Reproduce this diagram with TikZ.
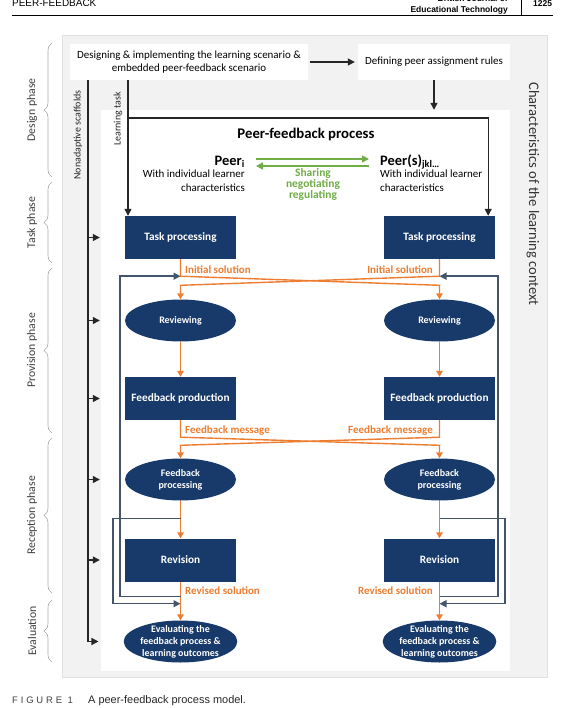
\documentclass[tikz,border=0pt]{standalone}
\usepackage{fontspec}
\setmainfont{Carlito}
\newfontfamily\journalfont{Liberation Sans}
\newfontfamily\figlabelfont[LetterSpace=30]{Liberation Sans}
\usetikzlibrary{arrows.meta,shapes.geometric,decorations.pathreplacing}

\definecolor{fbblue}{RGB}{24,58,106}
\definecolor{fborange}{RGB}{237,125,49}
\definecolor{fbgreen}{RGB}{112,173,71}
\definecolor{fbslate}{RGB}{68,84,106}
\definecolor{ctxgrey}{RGB}{242,242,242}

\newcommand{\PeerColumn}[2]{
    \node[fbbox] (task#2) at (#1,237.5) {Task processing};
    \node[fboval] (rev#2) at (#1,320.5) {Reviewing};
    \node[fbbox] (prod#2) at (#1,398.5) {Feedback production};
    \node[fboval] (proc#2) at (#1,479.5) {Feedback\\processing};
    \node[fbbox] (revi#2) at (#1,560) {Revision};
    \node[fboval] (eval#2) at (#1,641.5) {Evaluating the\\feedback process \&\\learning outcomes};
    \draw[orangeflow] (rev#2) -- (prod#2);
    \draw[orangeflow] (proc#2) -- (revi#2);
    \draw[orangeflow] (revi#2) -- (eval#2);
}

\newcommand{\FeedbackLoops}[3]{
    \draw[slateloop] ([yshift=-15bp]revi#1.south) -- ++(#2,0) |- ([yshift=-17bp]task#1.south);
    \draw[slateloop] ([yshift=-18bp]proc#1.south) -- ++(#3,0) |- ([yshift=-22bp]revi#1.south);
}

\begin{document}
\begin{tikzpicture}[x=1bp,y=-1bp,
        fbbox/.style={rectangle, fill=fbblue, text=white, minimum width=111bp, minimum height=43bp, inner sep=0pt, font=\fontsize{11.3}{13}\selectfont\bfseries},
        fboval/.style={ellipse, fill=fbblue, text=white, minimum width=111bp, minimum height=42bp, inner xsep=0pt, inner ysep=-5bp, align=center, font=\fontsize{10}{12}\selectfont\bfseries},
        plainbox/.style={rectangle, fill=white, inner sep=0pt, align=center, font=\fontsize{11}{13.5}\selectfont},
        blackarrow/.style={draw=black!85, line width=1.3bp, -{Triangle[length=7bp,width=7bp]}},
        orangeflow/.style={draw=fborange, line width=1.4bp, -{Triangle[length=6bp,width=6.5bp]}},
        slateloop/.style={draw=fbslate, line width=1.5bp, -{Triangle[length=7bp,width=7bp]}},
        greenarrow/.style={draw=fbgreen, line width=1.5bp, -{Triangle[length=7bp,width=7bp]}},
        flowlbl/.style={text=fborange, inner sep=0pt, font=\fontsize{11}{13}\selectfont\bfseries},
        phasebrace/.style={draw=black!35, line width=0.6bp, decorate, decoration={brace, amplitude=8bp}},
        phaselbl/.style={rotate=90, text=black!75, font=\fontsize{11.8}{13}\selectfont},
        sidelbl/.style={rotate=90, text=black!85, inner sep=0pt, font=\fontsize{10}{12}\selectfont},
        desclbl/.style={inner sep=0pt, font=\fontsize{11}{13.5}\selectfont}]
    \useasboundingbox (0,0) rectangle (563,708);

    % running head
    \node[anchor=base west, inner sep=0pt, font=\journalfont\fontsize{10}{12}\selectfont] (runhead) at (12,7) {PEER-FEEDBACK};
    \node[anchor=base east, inner sep=0pt, font=\journalfont\fontsize{8.5}{10}\selectfont\bfseries] (journal0) at (508,1.5) {British Journal of};
    \node[anchor=base east, inner sep=0pt, font=\journalfont\fontsize{8.5}{10}\selectfont\bfseries] (journal) at (508,12.5) {Educational Technology};
    \node[anchor=base west, inner sep=0pt, font=\journalfont\fontsize{8.5}{10}\selectfont\bfseries] (pageno) at (533,7) {1225};
    \draw[line width=0.8bp] (12,15) -- (553,15);
    \draw[line width=0.6bp] (521,0) -- (521,15);

    % context and process areas
    \node[fill=ctxgrey, draw=black!12, minimum width=485bp, minimum height=642bp, inner sep=0pt] (ctx) at (304.5,356) {};
    \node[fill=white, minimum width=409bp, minimum height=561bp, inner sep=0pt] (pfarea) at (305.5,390.5) {};
    \node[rotate=-90, text=black!80, inner sep=0pt, font=\fontsize{14.6}{16}\selectfont] (ctxlbl) at (533,194) {Characteristics of the learning context};

    % design
    \node[plainbox, minimum width=238bp, minimum height=36bp] (design) at (189,62) {Designing \& implementing the learning scenario \&\\embedded peer-feedback scenario};
    \node[plainbox, minimum width=152bp, minimum height=36bp] (rules) at (434,62) {Defining peer assignment rules};
    \draw[blackarrow, shorten <=2bp, shorten >=3bp] (design) -- (rules);
    \draw[blackarrow] (rules.south) -- (rules.south |- pfarea.north);

    % phases
    \foreach \top/\bot/\nm/\txt in {43/177/des/Design phase, 182/263/tsk/Task phase, 268/433/prv/Provision phase, 438/593/rcp/Reception phase, 600/662/evl/Evaluation}{
        \draw[phasebrace] (52,\bot) -- (52,\top);
        \node[phaselbl] (ph\nm) at (32,{(\top+\bot)/2}) {\txt};
    }

    % peers
    \node[inner sep=0pt, font=\fontsize{14.8}{16}\selectfont\bfseries] (pftitle) at (306,134) {Peer-feedback process};
    \node[anchor=base east, inner sep=0pt, font=\fontsize{14.5}{16}\selectfont\bfseries] (peerI) at (245,165) {Peer\textsubscript{i}};
    \node[anchor=base west, inner sep=0pt, font=\fontsize{14.5}{16}\selectfont\bfseries] (peerJ) at (380,165) {Peer(s)\textsubscript{jkl\ldots}};
    \node[desclbl, align=right, anchor=north east] (peerItxt) at (245,170) {With individual learner\\characteristics};
    \node[desclbl, align=left, anchor=north west] (peerJtxt) at (380,170) {With individual learner\\characteristics};
    \draw[greenarrow] ([xshift=11bp,yshift=6bp]peerI.base east) -- ([xshift=-11bp,yshift=6bp]peerJ.base west);
    \draw[greenarrow] ([xshift=-11bp,yshift=-1bp]peerJ.base west) -- ([xshift=11bp,yshift=-1bp]peerI.base east);
    \node[align=center, text=fbgreen, inner sep=0pt, font=\fontsize{11.5}{11.2}\selectfont\bfseries] (share) at (313,184.5) {Sharing\\negotiating\\regulating};

    % process steps
    \PeerColumn{180.5}{L}
    \PeerColumn{439.5}{R}

    % exchanges between peers
    \draw[orangeflow] (taskL.south) -- ++(0,17) -- ([yshift=14bp]revR.north) -- (revR.north);
    \draw[orangeflow] (taskR.south) -- ++(0,17) -- ([yshift=14bp]revL.north) -- (revL.north);
    \draw[orangeflow] (prodL.south) -- ++(0,17) -- ([yshift=13bp]procR.north) -- (procR.north);
    \draw[orangeflow] (prodR.south) -- ++(0,17) -- ([yshift=13bp]procL.north) -- (procL.north);
    \node[flowlbl, anchor=west] (initL) at ([xshift=4.5bp,yshift=-10bp]taskL.south) {Initial solution};
    \node[flowlbl, anchor=east] (initR) at ([xshift=-6.5bp,yshift=-10bp]taskR.south) {Initial solution};
    \node[flowlbl, anchor=west] (msgL) at ([xshift=4.5bp,yshift=-10bp]prodL.south) {Feedback message};
    \node[flowlbl, anchor=east] (msgR) at ([xshift=-6.5bp,yshift=-10bp]prodR.south) {Feedback message};
    \node[flowlbl, anchor=west] (solL) at ([xshift=4.5bp,yshift=-9bp]reviL.south) {Revised solution};
    \node[flowlbl, anchor=east] (solR) at ([xshift=-6.5bp,yshift=-9bp]reviR.south) {Revised solution};

    % revision loops
    \FeedbackLoops{L}{-60.5}{-67.5}
    \FeedbackLoops{R}{58.5}{65.5}

    % scaffolds and learning task
    \coordinate (scaf) at (88,80);
    \coordinate (ltask) at (128,80);
    \node[sidelbl] (scaflbl) at (78,135) {Nonadaptive scaffolds};
    \node[sidelbl] (ltasklbl) at (118,119) {Learning task};
    \draw[blackarrow] (scaf) |- ([xshift=-25bp]evalL.west);
    \foreach \n in {taskL,revL,prodL,procL,reviL}
        \draw[blackarrow] (scaf |- \n) -- ([xshift=-25bp]\n.west);
    \draw[blackarrow] (ltask) -- (ltask |- taskL.north);
    \draw[blackarrow] ([yshift=-38bp]ltask) -| ([xshift=-7bp]taskR.north east);

    % caption
    \node[anchor=base west, inner sep=0pt, text=black!75, font=\figlabelfont\fontsize{9.5}{11}\selectfont] (figno) at (12,703) {FIGURE 1};
    \node[anchor=base west, inner sep=0pt, text=black!85, font=\journalfont\fontsize{11}{12}\selectfont] (figcap) at (88,703) {A peer-feedback process model.};
\end{tikzpicture}
\end{document}
